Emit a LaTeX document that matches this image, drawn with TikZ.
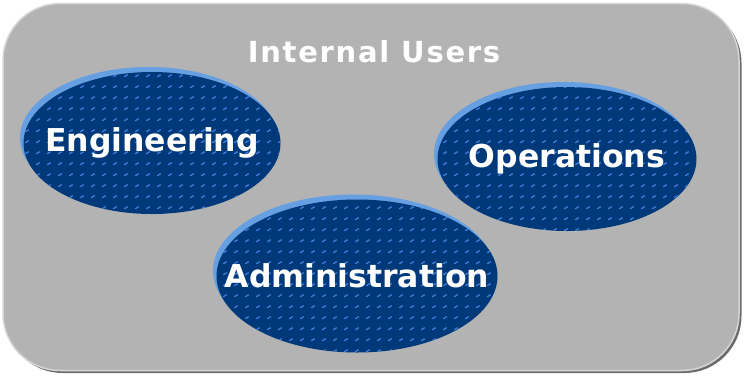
\documentclass[tikz,border=0pt]{standalone}
\usepackage{fontspec}
\setmainfont{DejaVu Sans}
\newfontfamily\titlefont[LetterSpace=6]{DejaVu Sans}
\usepackage{xcolor}
\usetikzlibrary{shapes.geometric, shadows, patterns.meta}
\definecolor{panelgray}{RGB}{179,179,179}
\definecolor{panelrim}{RGB}{214,214,214}
\definecolor{panelshade}{RGB}{108,108,108}
\definecolor{groupblue}{RGB}{0,57,122}
\definecolor{speckblue}{RGB}{60,125,215}
\definecolor{rimblue}{RGB}{102,160,226}
\tikzdeclarepattern{
    name=speckle,
    type=uncolored,
    bounding box={(0pt,0pt) and (11pt,11pt)},
    tile size={(11pt,11pt)},
    code={\fill (3pt,4pt) -- (7pt,6.5pt) -- (7.5pt,5pt) -- (4pt,3pt) -- cycle;}
}
\tikzstyle{group} = [
    ellipse,
    inner sep=0pt,
    fill=groupblue,
    general shadow={shadow xshift=-3.5pt, shadow yshift=5pt, fill=rimblue},
    postaction={pattern=speckle, pattern color=speckblue},
    label={[text=white, font=\bfseries\fontsize{31.5}{36}\selectfont]center:#1}
]

\begin{document}
\begin{tikzpicture}[
    x=1pt, y=-1pt,
    panel/.style={
        rectangle,
        rounded corners=57pt,
        fill=panelgray,
        draw=panelrim,
        line width=1.5pt,
        minimum width=736pt,
        minimum height=367pt,
        drop shadow={shadow xshift=2.5pt, shadow yshift=-2.5pt, fill=panelshade, opacity=1}
    },
    heading/.style={
        text=white,
        font=\titlefont\bfseries\fontsize{29}{34}\selectfont
    }
]
\useasboundingbox (0,0) rectangle (745,376);

% Nodes
\node (users) [panel] at (371,187) {};
\node (title) [heading] at (374,52) {Internal Users};
\node (eng) [group=Engineering, minimum width=257pt, minimum height=142pt] at (152,143) {};
\node (ops) [group=Operations, minimum width=259pt, minimum height=144pt] at (567,159) {};
\node (admin) [group=Administration, minimum width=281pt, minimum height=153pt] at (357,276) {};

\end{tikzpicture}
\end{document}
